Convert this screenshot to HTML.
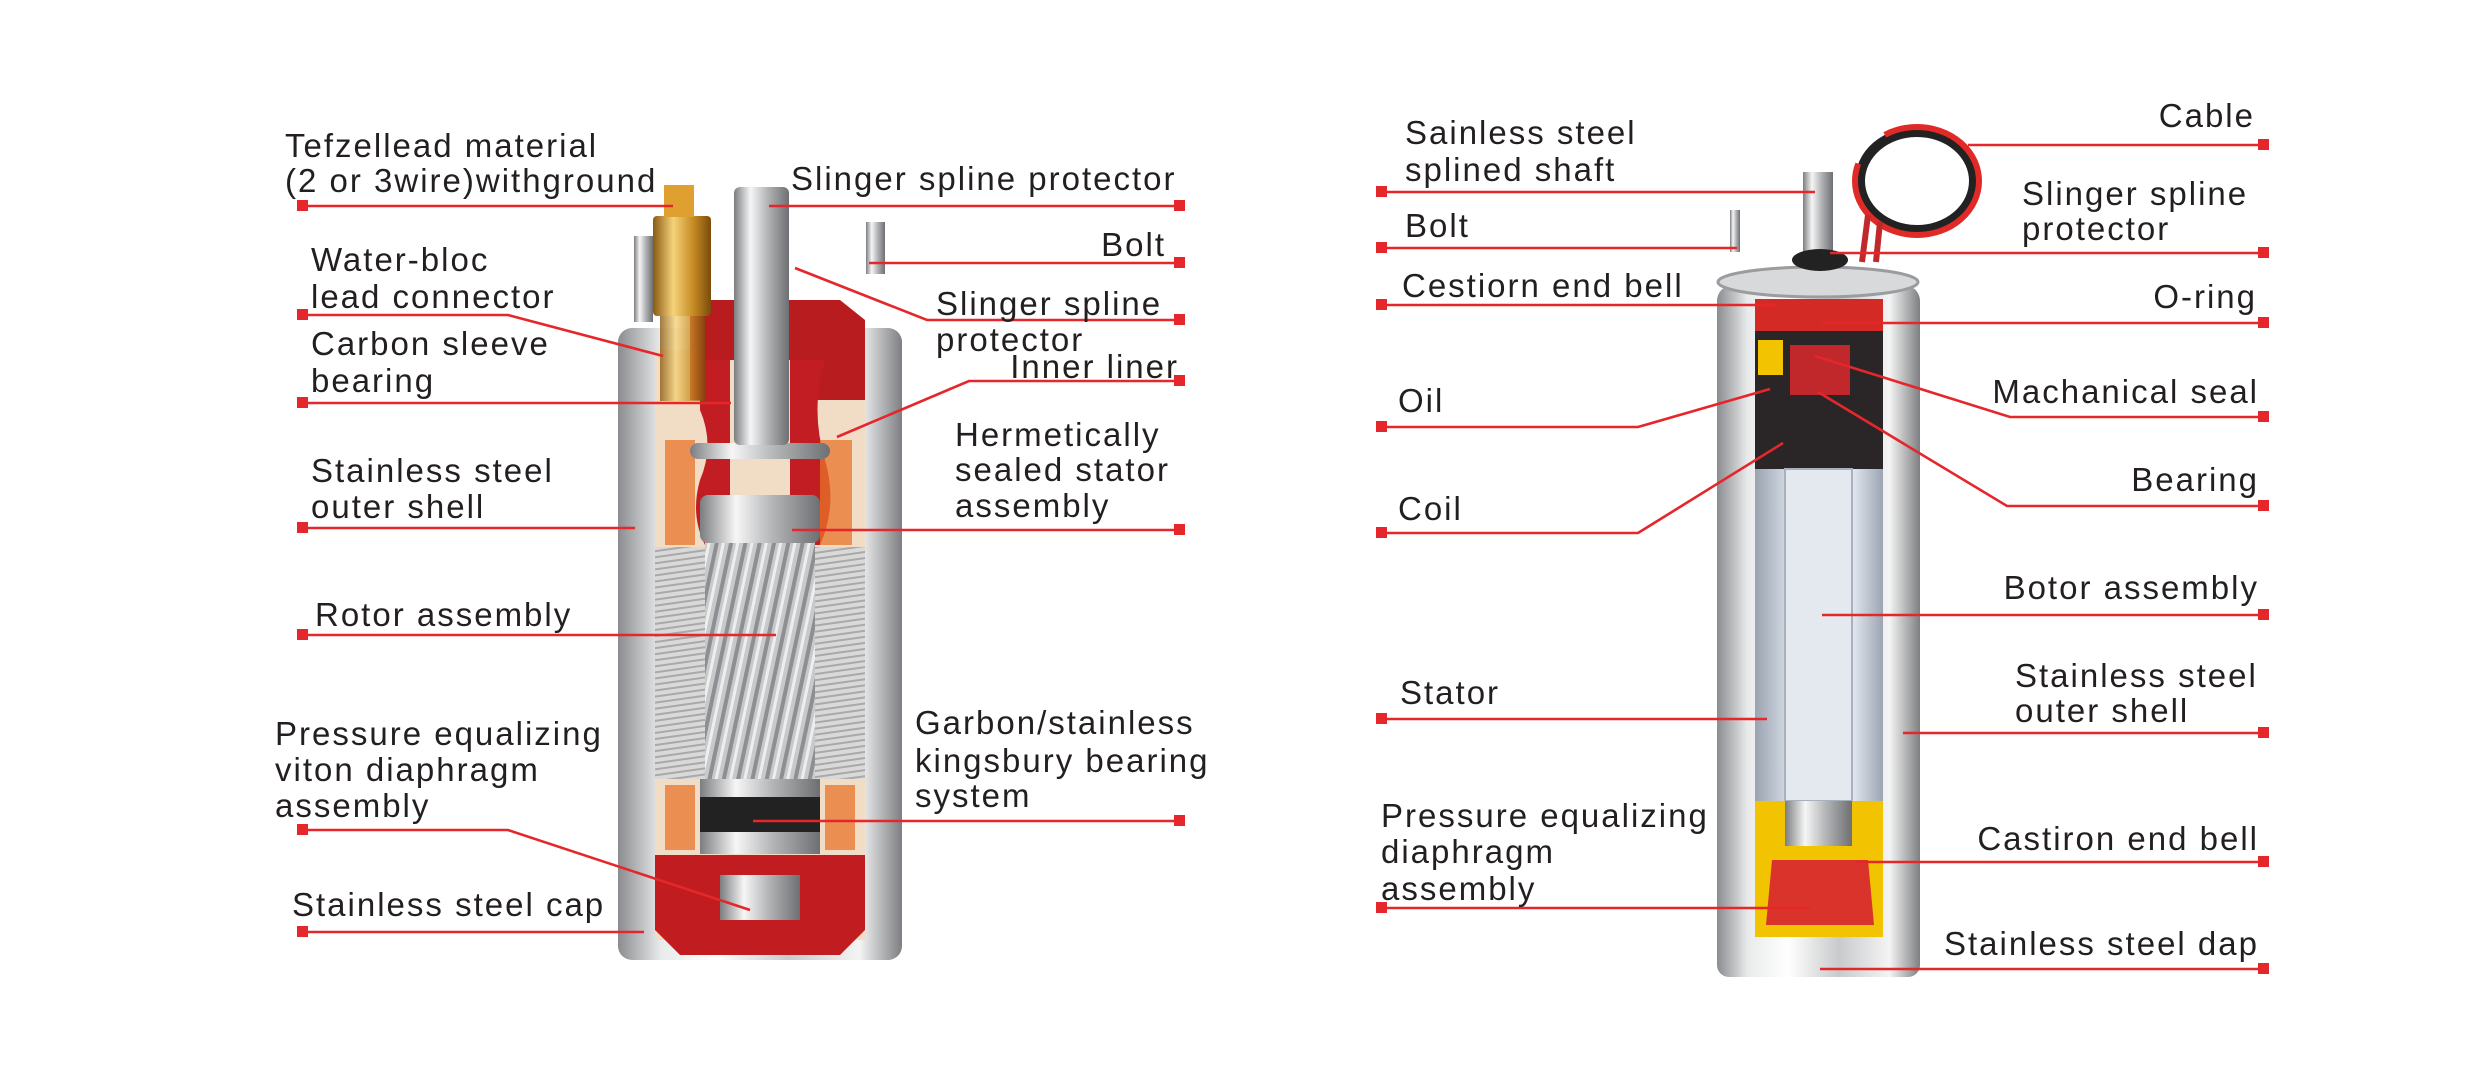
<!DOCTYPE html>
<html><head><meta charset="utf-8"><style>
html,body{margin:0;padding:0;background:#fff;}
svg{display:block;}
text{font-family:"Liberation Sans",Arial,sans-serif;font-size:33px;fill:#231f20;letter-spacing:2px;}
.l{stroke:#e5262b;stroke-width:2.6;fill:none;}
.s{fill:#e5262b;}
</style></head><body>
<svg width="2491" height="1073" viewBox="0 0 2491 1073" xmlns="http://www.w3.org/2000/svg">
<defs>
<linearGradient id="silver" x1="0" x2="1" y1="0" y2="0">
<stop offset="0" stop-color="#8a8c8f"/><stop offset="0.15" stop-color="#e9eaeb"/><stop offset="0.35" stop-color="#ffffff"/><stop offset="0.6" stop-color="#c9cacc"/><stop offset="0.85" stop-color="#f4f4f4"/><stop offset="1" stop-color="#7d7f82"/>
</linearGradient>
<linearGradient id="shaft" x1="0" x2="1">
<stop offset="0" stop-color="#7b7d80"/><stop offset="0.3" stop-color="#f6f6f6"/><stop offset="0.6" stop-color="#b4b6b8"/><stop offset="1" stop-color="#6d6f72"/>
</linearGradient>
<linearGradient id="gold" x1="0" x2="1">
<stop offset="0" stop-color="#8a5a12"/><stop offset="0.35" stop-color="#f5d27a"/><stop offset="0.7" stop-color="#c58a22"/><stop offset="1" stop-color="#7a4b0c"/>
</linearGradient>
<linearGradient id="blue" x1="0" x2="1">
<stop offset="0" stop-color="#9aa3b0"/><stop offset="0.3" stop-color="#dfe5ee"/><stop offset="0.5" stop-color="#c3ccd8"/><stop offset="0.75" stop-color="#e6ebf2"/><stop offset="1" stop-color="#9ca5b2"/>
</linearGradient>
<pattern id="lam" width="6" height="6" patternUnits="userSpaceOnUse" patternTransform="rotate(-8)">
<rect width="6" height="6" fill="#d9d9d9"/><rect width="6" height="2" fill="#a9a9a9"/>
</pattern>
<pattern id="rot" width="14" height="14" patternUnits="userSpaceOnUse" patternTransform="rotate(12)">
<rect width="14" height="14" fill="#c8c9cb"/><rect width="4" height="14" fill="#8d8f92"/><rect x="7" width="3" height="14" fill="#eeeeee"/>
</pattern>
</defs>

<!-- LEFT PUMP -->
<rect x="618" y="328" width="284" height="632" rx="14" fill="url(#silver)"/>
<rect x="655" y="350" width="210" height="590" fill="#f1dcc6"/>
<path d="M690 300 L840 300 L865 320 L865 400 L810 400 L810 360 L720 360 L720 400 L690 400 Z" fill="#b81c1f"/>
<path d="M700 360 L730 360 L730 545 L705 545 Q690 515 700 480 Q715 445 700 410 Z" fill="#c21d22"/>
<path d="M790 360 L825 360 Q810 410 825 460 Q838 505 820 545 L790 545 Z" fill="#c21d22"/>
<rect x="665" y="440" width="30" height="105" fill="#e8742a" opacity="0.75"/>
<rect x="820" y="440" width="32" height="105" fill="#e8742a" opacity="0.75"/>
<rect x="655" y="547" width="50" height="232" fill="url(#lam)"/>
<rect x="815" y="547" width="50" height="232" fill="url(#lam)"/>
<rect x="705" y="541" width="110" height="238" fill="url(#rot)"/>
<rect x="700" y="495" width="120" height="48" rx="8" fill="url(#shaft)"/>
<rect x="690" y="443" width="140" height="16" rx="8" fill="url(#shaft)"/>
<rect x="665" y="785" width="30" height="65" fill="#e8742a" opacity="0.75"/>
<rect x="825" y="785" width="30" height="65" fill="#e8742a" opacity="0.75"/>
<rect x="700" y="779" width="120" height="18" fill="url(#shaft)"/>
<rect x="700" y="797" width="120" height="35" fill="#222"/>
<rect x="700" y="832" width="120" height="22" fill="url(#shaft)"/>
<path d="M655 855 L865 855 L865 930 L840 955 L680 955 L655 930 Z" fill="#c11d21"/>
<rect x="720" y="875" width="80" height="45" fill="url(#shaft)"/>
<rect x="734" y="187" width="55" height="258" rx="6" fill="url(#shaft)"/>
<rect x="653" y="216" width="58" height="100" rx="4" fill="url(#gold)"/>
<rect x="664" y="185" width="30" height="32" fill="#e0a030"/>
<rect x="660" y="316" width="45" height="85" fill="url(#gold)" opacity="0.8"/>
<rect x="634" y="236" width="19" height="86" fill="url(#shaft)"/>
<rect x="866" y="222" width="19" height="52" fill="url(#shaft)"/>

<!-- RIGHT PUMP -->
<rect x="1717" y="285" width="203" height="692" rx="16" fill="url(#silver)"/>
<ellipse cx="1818" cy="282" rx="100" ry="15" fill="#d7d9db" stroke="#9a9c9f" stroke-width="3"/>
<rect x="1755" y="299" width="128" height="32" fill="#d42a26"/>
<rect x="1755" y="331" width="128" height="138" fill="#2a2627"/>
<rect x="1758" y="340" width="25" height="35" fill="#f2c300"/>
<rect x="1790" y="345" width="60" height="50" fill="#c0282b"/>
<rect x="1755" y="469" width="128" height="332" fill="url(#blue)"/>
<rect x="1785" y="469" width="67" height="332" fill="#e4e9f0" stroke="#a8b0bc" stroke-width="2"/>
<rect x="1755" y="801" width="128" height="136" fill="#f2c300"/>
<rect x="1785" y="801" width="67" height="45" fill="url(#shaft)"/>
<path d="M1772 860 L1868 860 L1874 925 L1766 925 Z" fill="#d9332b"/>
<rect x="1717" y="937" width="203" height="40" rx="12" fill="url(#silver)"/>
<rect x="1803" y="172" width="30" height="95" fill="url(#shaft)"/>
<rect x="1730" y="210" width="10" height="42" fill="url(#shaft)"/>
<ellipse cx="1820" cy="260" rx="28" ry="11" fill="#222"/>
<ellipse cx="1917" cy="181" rx="57" ry="49" fill="none" stroke="#222" stroke-width="10"/>
<ellipse cx="1917" cy="181" rx="62" ry="54" fill="none" stroke="#e02a27" stroke-width="6" stroke-dasharray="200 40"/>
<path d="M1868 215 L1862 262 M1880 222 L1876 262" stroke="#c0282b" stroke-width="6"/>

<!-- LEFT LABEL LINES -->
<g class="l">
<polyline points="303,206 673,206"/>
<polyline points="769,206 1179,206"/>
<polyline points="869,263 1179,263"/>
<polyline points="303,315 508,315 663,356"/>
<polyline points="303,403 731,403"/>
<polyline points="1179,320 927,320 795,268"/>
<polyline points="1179,381 969,381 837,437"/>
<polyline points="303,528 635,528"/>
<polyline points="792,530 1179,530"/>
<polyline points="303,635 776,635"/>
<polyline points="753,821 1179,821"/>
<polyline points="303,830 508,830 750,910"/>
<polyline points="303,932 644,932"/>
</g>
<g class="s">
<rect x="297" y="200" width="11" height="11"/><rect x="1174" y="200" width="11" height="11"/>
<rect x="1174" y="257" width="11" height="11"/><rect x="297" y="309" width="11" height="11"/>
<rect x="297" y="397" width="11" height="11"/><rect x="1174" y="314" width="11" height="11"/>
<rect x="1174" y="375" width="11" height="11"/><rect x="297" y="522" width="11" height="11"/>
<rect x="1174" y="524" width="11" height="11"/><rect x="297" y="629" width="11" height="11"/>
<rect x="1174" y="815" width="11" height="11"/><rect x="297" y="824" width="11" height="11"/>
<rect x="297" y="926" width="11" height="11"/>
</g>

<!-- RIGHT LABEL LINES -->
<g class="l">
<polyline points="1382,192 1815,192"/>
<polyline points="1382,248 1737,248"/>
<polyline points="1382,305 1775,305"/>
<polyline points="1382,427 1638,427 1770,389"/>
<polyline points="1382,533 1638,533 1783,443"/>
<polyline points="1382,719 1767,719"/>
<polyline points="1382,908 1810,908"/>
<polyline points="1968,145 2263,145"/>
<polyline points="1830,253 2263,253"/>
<polyline points="1822,323 2263,323"/>
<polyline points="2263,417 2010,417 1815,356"/>
<polyline points="2263,506 2007,506 1818,392"/>
<polyline points="1822,615 2263,615"/>
<polyline points="1903,733 2263,733"/>
<polyline points="1857,862 2263,862"/>
<polyline points="1820,969 2263,969"/>
</g>
<g class="s">
<rect x="1376" y="186" width="11" height="11"/><rect x="1376" y="242" width="11" height="11"/>
<rect x="1376" y="299" width="11" height="11"/><rect x="1376" y="421" width="11" height="11"/>
<rect x="1376" y="527" width="11" height="11"/><rect x="1376" y="713" width="11" height="11"/>
<rect x="1376" y="902" width="11" height="11"/>
<rect x="2258" y="139" width="11" height="11"/><rect x="2258" y="247" width="11" height="11"/>
<rect x="2258" y="317" width="11" height="11"/><rect x="2258" y="411" width="11" height="11"/>
<rect x="2258" y="500" width="11" height="11"/><rect x="2258" y="609" width="11" height="11"/>
<rect x="2258" y="727" width="11" height="11"/><rect x="2258" y="856" width="11" height="11"/>
<rect x="2258" y="963" width="11" height="11"/>
</g>

<!-- LEFT TEXT -->
<text x="285" y="157">Tefzellead material</text>
<text x="285" y="192">(2 or 3wire)withground</text>
<text x="791" y="190">Slinger spline protector</text>
<text x="1166" y="256" text-anchor="end">Bolt</text>
<text x="311" y="271">Water-bloc</text>
<text x="311" y="308">lead connector</text>
<text x="311" y="355">Carbon sleeve</text>
<text x="311" y="392">bearing</text>
<text x="936" y="315">Slinger spline</text>
<text x="936" y="351">protector</text>
<text x="1179" y="378" text-anchor="end">Inner liner</text>
<text x="955" y="446">Hermetically</text>
<text x="955" y="481">sealed stator</text>
<text x="955" y="517">assembly</text>
<text x="311" y="482">Stainless steel</text>
<text x="311" y="518">outer shell</text>
<text x="315" y="626">Rotor assembly</text>
<text x="915" y="734">Garbon/stainless</text>
<text x="915" y="772">kingsbury bearing</text>
<text x="915" y="807">system</text>
<text x="275" y="745">Pressure equalizing</text>
<text x="275" y="781">viton diaphragm</text>
<text x="275" y="817">assembly</text>
<text x="292" y="916">Stainless steel cap</text>

<!-- RIGHT TEXT -->
<text x="1405" y="144">Sainless steel</text>
<text x="1405" y="181">splined shaft</text>
<text x="1405" y="237">Bolt</text>
<text x="1402" y="297">Cestiorn end bell</text>
<text x="1398" y="412">Oil</text>
<text x="1398" y="520">Coil</text>
<text x="1400" y="704">Stator</text>
<text x="1381" y="827">Pressure equalizing</text>
<text x="1381" y="863">diaphragm</text>
<text x="1381" y="900">assembly</text>
<text x="2255" y="127" text-anchor="end">Cable</text>
<text x="2022" y="205">Slinger spline</text>
<text x="2022" y="240">protector</text>
<text x="2257" y="308" text-anchor="end">O-ring</text>
<text x="2259" y="403" text-anchor="end">Machanical seal</text>
<text x="2259" y="491" text-anchor="end">Bearing</text>
<text x="2259" y="599" text-anchor="end">Botor assembly</text>
<text x="2015" y="687">Stainless steel</text>
<text x="2015" y="722">outer shell</text>
<text x="2259" y="850" text-anchor="end">Castiron end bell</text>
<text x="2259" y="955" text-anchor="end">Stainless steel dap</text>
</svg>
</body></html>
